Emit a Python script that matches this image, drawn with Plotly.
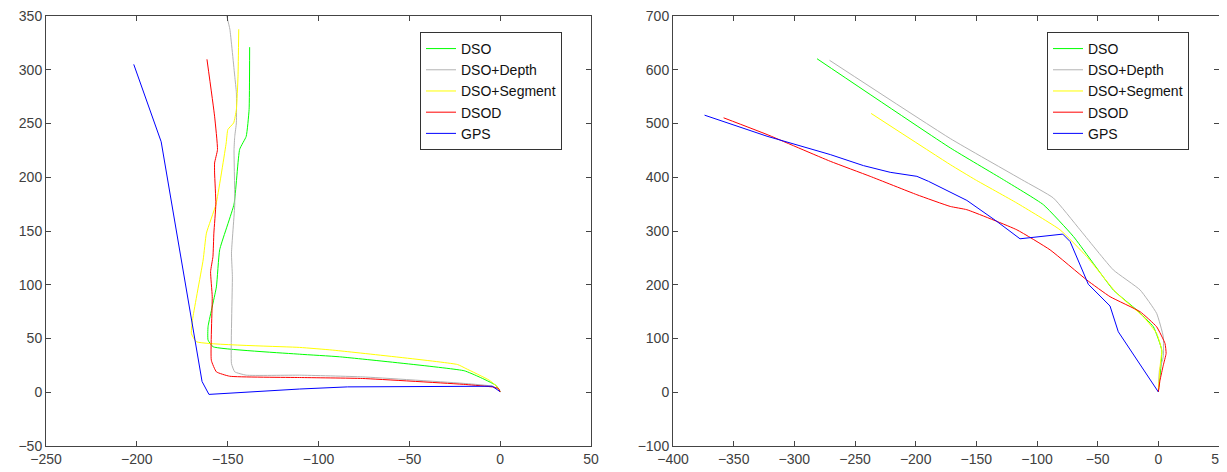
import plotly.graph_objects as go

# ---------------- Left plot data ----------------
L_dso_x = [-137.9, -138.2, -139.8, -143.4, -146.5, -154.4, -156.2, -160.8, -160.8, -158.0, -110.4, -88.5, -19.8, -11.6, -2.4, 0.0]
L_dso_y = [321, 263, 238, 226, 175, 132.5, 98, 61, 48.5, 42.3, 35.4, 33, 20, 14.3, 6.5, 0.5]

L_depth_x = [-150.5, -148.8, -146.1, -145.2, -145.2, -146.1, -146.5, -146.1, -147.9, -147.4, -147.9, -146.1, -139.8, -110.4, -75.7, -18.9, -4.2, 0.0]
L_depth_y = [350, 337.7, 294, 278.6, 250.6, 238, 225.7, 175, 129.4, 107.5, 26.7, 19, 15.9, 15.9, 14.3, 8.1, 5.6, 1.9]

L_seg_x = [-143.9, -144.3, -145.2, -146.7, -149.9, -150.8, -156.4, -161.7, -163.5, -169.1, -170.0, -167.2, -110.4, -92.2, -23.5, -18.9, -6.0, -1.5, 0.0]
L_seg_y = [337.7, 294, 263, 250.6, 244.4, 232, 175, 148, 123, 70, 54.8, 47, 41.7, 39.2, 25.8, 22.1, 11.2, 4.9, 0.3]

L_dsod_x = [-161.4, -157.2, -155.6, -157.2, -157.2, -156.5, -157.6, -158.1, -159.4, -158.5, -159.0, -156.2, -148.9, -110.4, -75.7, -18.9, -4.2, -0.9, 0.0]
L_dsod_y = [309.7, 256.8, 225.7, 213.3, 204, 175, 148, 126.2, 112.2, 88.9, 29.8, 19, 14.9, 13.7, 12.8, 7.2, 4.9, 3.5, 0.3]

L_gps_x = [-201.7, -186.6, -164.1, -160.3, -110.4, -84.0, -4.4, 0.0]
L_gps_y = [305, 233, 10, -2, 3, 5, 5.6, 0.5]

# ---------------- Right plot data ----------------
R_dso_x = [-281.3, -171.5, -127.7, -94.7, -70.0, -37.1, -17.8, -4.1, 2.8, 0.0]
R_dso_y = [620.5, 454.6, 395.5, 348.9, 289.8, 190.3, 153, 121.8, 78.4, 0.6]

R_depth_x = [-271.0, -171.5, -112.5, -86.5, -64.5, -37.1, -15.0, -1.4, 4.1, 4.1, 0.9, 0.0]
R_depth_y = [617.6, 472, 395.5, 361.4, 302.2, 227.6, 190.3, 146.8, 103.2, 65.9, 41, 0.6]

R_seg_x = [-236.7, -171.5, -150.9, -116.6, -81.0, -59.0, -34.2, -12.3, -1.4, 2.8, 1.4, 0.0]
R_seg_y = [518.7, 423.5, 395.5, 352, 302.2, 252.4, 184.1, 140.5, 109.5, 78.4, 47.2, 0.6]

R_dsod_x = [-358.3, -322.5, -270.4, -237.5, -199.0, -171.5, -157.8, -116.6, -89.2, -59.0, -39.8, -15.0, -1.4, 5.5, 6.4, 4.1, 1.4, 0.0]
R_dsod_y = [510.6, 479.5, 429.7, 401.7, 367.5, 345.7, 339.6, 302.2, 264.9, 208.9, 177.8, 149.8, 121.8, 90.8, 72.1, 50.4, 22.4, 0.6]

R_gps_x = [-374.0, -322.5, -270.4, -243.0, -221.0, -199.0, -189.4, -171.5, -157.8, -133.0, -114.0, -78.8, -72.7, -57.7, -39.8, -33.0, 0.0]
R_gps_y = [515.5, 476.3, 442.2, 421.6, 409.2, 401.7, 392.4, 371.8, 356.9, 317.7, 285.5, 294.2, 280.4, 200.9, 160.4, 112.5, 0.6]

names = ["DSO", "DSO+Depth", "DSO+Segment", "DSOD", "GPS"]
colors = ["#00ff00", "#b3b3b3", "#ffff00", "#ff0000", "#0000ff"]

left = [(L_dso_x, L_dso_y), (L_depth_x, L_depth_y), (L_seg_x, L_seg_y), (L_dsod_x, L_dsod_y), (L_gps_x, L_gps_y)]
right = [(R_dso_x, R_dso_y), (R_depth_x, R_depth_y), (R_seg_x, R_seg_y), (R_dsod_x, R_dsod_y), (R_gps_x, R_gps_y)]


def line_style(n, c):
    if n == "GPS":
        return dict(color=c, width=1)
    return dict(color=c, width=1, shape="spline", smoothing=0.4)


fig = go.Figure()
for (x, y), n, c in zip(left, names, colors):
    fig.add_trace(go.Scatter(x=x, y=y, mode="lines", name=n, line=line_style(n, c),
                             xaxis="x", yaxis="y", legend="legend"))
for (x, y), n, c in zip(right, names, colors):
    fig.add_trace(go.Scatter(x=x, y=y, mode="lines", name=n, line=line_style(n, c),
                             xaxis="x2", yaxis="y2", legend="legend2"))

W, H = 1227, 472
OFF = 8  # page body margin offsets the figure by 8px
ML, MR, MT, MB = 46 - OFF, 1227 - (1219 - OFF), 16 - OFF, 472 - (446.5 - OFF)
PW = W - ML - MR
PH = H - MT - MB

axis_common = dict(showgrid=False, zeroline=False, showline=True, linecolor="#444444", linewidth=1,
                   mirror="ticks", ticks="inside", ticklen=5, tickcolor="#444444", automargin=False,
                   ticklabeloverflow="allow",
                   tickfont=dict(family="Liberation Sans, Arial", size=14, color="#404040"))

legend_common = dict(bgcolor="white", bordercolor="#333333", borderwidth=1,
                     font=dict(family="Liberation Sans, Arial", size=14, color="#111111"),
                     xanchor="left", yanchor="top", tracegroupgap=0, itemwidth=30)

fig.update_layout(
    width=W, height=H,
    margin=dict(l=ML, r=MR, t=MT, b=MB, pad=0, autoexpand=False),
    paper_bgcolor="white", plot_bgcolor="white",
    showlegend=True,
    xaxis=dict(domain=[0, (591 - 46) / PW], range=[-250, 50], dtick=50, anchor="y", **axis_common),
    yaxis=dict(domain=[0, 1], range=[-50, 350], dtick=50, anchor="x", **axis_common),
    xaxis2=dict(domain=[(673 - 46) / PW, 1], range=[-400, 50], dtick=50, anchor="y2", **axis_common),
    yaxis2=dict(domain=[0, 1], range=[-100, 700], dtick=100, anchor="x2", **axis_common),
    legend=dict(x=(420 - 46) / PW, y=(446.5 - 32) / PH, **legend_common),
    legend2=dict(x=(1047 - 46) / PW, y=(446.5 - 32) / PH, **legend_common),
)

fig.write_html("out.html")
